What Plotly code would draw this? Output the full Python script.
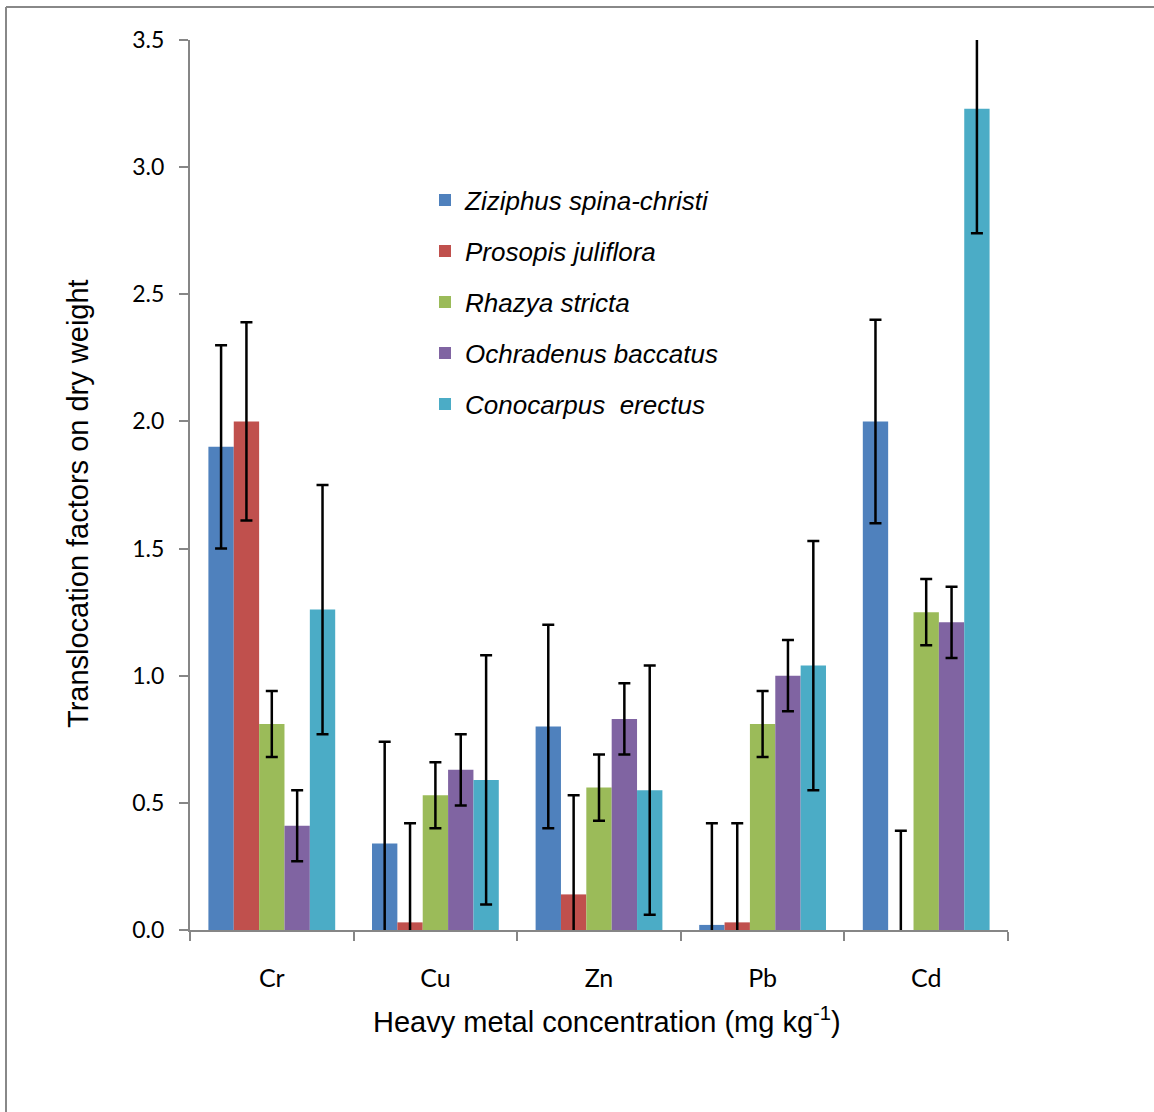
import plotly.graph_objects as go

metals = ["Cr", "Cu", "Zn", "Pb", "Cd"]
species = ["Ziziphus spina-christi", "Prosopis juliflora", "Rhazya stricta",
           "Ochradenus baccatus", "Conocarpus  erectus"]
colors = ["#4F81BD", "#C0504D", "#9BBB59", "#8064A2", "#4BACC6"]

ziziphus = [1.90, 0.34, 0.80, 0.02, 2.00]
prosopis = [2.00, 0.03, 0.14, 0.03, 0.00]
rhazya = [0.81, 0.53, 0.56, 0.81, 1.25]
ochradenus = [0.41, 0.63, 0.83, 1.00, 1.21]
conocarpus = [1.26, 0.59, 0.55, 1.04, 3.23]

err_ziziphus = [0.40, 0.40, 0.40, 0.40, 0.40]
err_prosopis = [0.39, 0.39, 0.39, 0.39, 0.39]
err_rhazya = [0.13, 0.13, 0.13, 0.13, 0.13]
err_ochradenus = [0.14, 0.14, 0.14, 0.14, 0.14]
err_conocarpus = [0.49, 0.49, 0.49, 0.49, 0.49]

y_ticks = [0.0, 0.5, 1.0, 1.5, 2.0, 2.5, 3.0, 3.5]
y_tick_labels = ["0.0", "0.5", "1.0", "1.5", "2.0", "2.5", "3.0", "3.5"]

x_title = "Heavy metal concentration (mg kg<sup>-1</sup>)"
y_title = "Translocation factors on dry weight"

values = [ziziphus, prosopis, rhazya, ochradenus, conocarpus]
errors = [err_ziziphus, err_prosopis, err_rhazya, err_ochradenus, err_conocarpus]

W, H = 1154, 1112
L, R, T, B = 190, 146, 40, 182
pw, ph = W - L - R, H - T - B

def px_x(p):
    return (p - L) / pw

def px_y(p):
    return (H - B - p) / ph

fig = go.Figure()
legend_names = ["legend", "legend2", "legend3", "legend4", "legend5"]
for i, (name, vals, errs, col) in enumerate(zip(species, values, errors, colors)):
    fig.add_trace(go.Bar(
        x=metals, y=vals, name=name, marker_color=col, marker_line_width=0,
        error_y=dict(type="data", array=errs, visible=True, color="black",
                     thickness=2.5, width=6),
        legend=legend_names[i], showlegend=True,
    ))

legend_y_px = [200, 251, 302, 353, 404]
layout_legends = {}
for i, ln in enumerate(legend_names):
    layout_legends[ln] = dict(
        x=px_x(425), y=px_y(legend_y_px[i]), xanchor="left", yanchor="middle",
        bgcolor="rgba(0,0,0,0)", borderwidth=0,
        font=dict(family="Liberation Sans", size=26, color="black", style="italic"),
        itemclick=False, itemdoubleclick=False,
    )

fig.update_layout(
    width=W, height=H,
    margin=dict(l=L, r=R, t=T, b=B, autoexpand=False),
    paper_bgcolor="white", plot_bgcolor="white",
    showlegend=True,
    barmode="group", bargap=0.225, bargroupgap=0,
    **layout_legends,
    xaxis=dict(
        type="category", showline=True, linecolor="#868686", linewidth=2,
        ticks="outside", tickson="boundaries", ticklen=9, tickwidth=2, tickcolor="#868686",
        tickfont=dict(family="Lato", size=25, color="black"),
        ticklabelstandoff=25,
        showgrid=False, zeroline=False,
    ),
    yaxis=dict(
        range=[0, 3.5], tickvals=y_ticks, ticktext=y_tick_labels,
        showline=True, linecolor="#868686", linewidth=2,
        ticks="outside", ticklen=9, tickwidth=2, tickcolor="#868686",
        tickfont=dict(family="Lato", size=23, color="black"),
        ticklabelstandoff=10,
        showgrid=False, zeroline=False,
    ),
    annotations=[
        dict(text=x_title, xref="paper", yref="paper", x=px_x(607), y=px_y(1020),
             xanchor="center", yanchor="middle", showarrow=False,
             font=dict(family="Liberation Sans", size=29, color="black")),
        dict(text=y_title, xref="paper", yref="paper", x=px_x(78), y=px_y(504),
             xanchor="center", yanchor="middle", showarrow=False, textangle=-90,
             font=dict(family="Liberation Sans", size=29, color="black")),
    ],
    shapes=[
        dict(type="line", xref="paper", yref="paper", x0=px_x(6), x1=px_x(6),
             y0=px_y(7), y1=px_y(H + 5), line=dict(color="#888888", width=2)),
        dict(type="line", xref="paper", yref="paper", x0=px_x(6), x1=px_x(W + 5),
             y0=px_y(7), y1=px_y(7), line=dict(color="#888888", width=2)),
    ],
)

fig.write_html("out.html", config={"displayModeBar": False},
               post_script="document.body.style.margin='0';document.body.style.overflow='hidden';")
